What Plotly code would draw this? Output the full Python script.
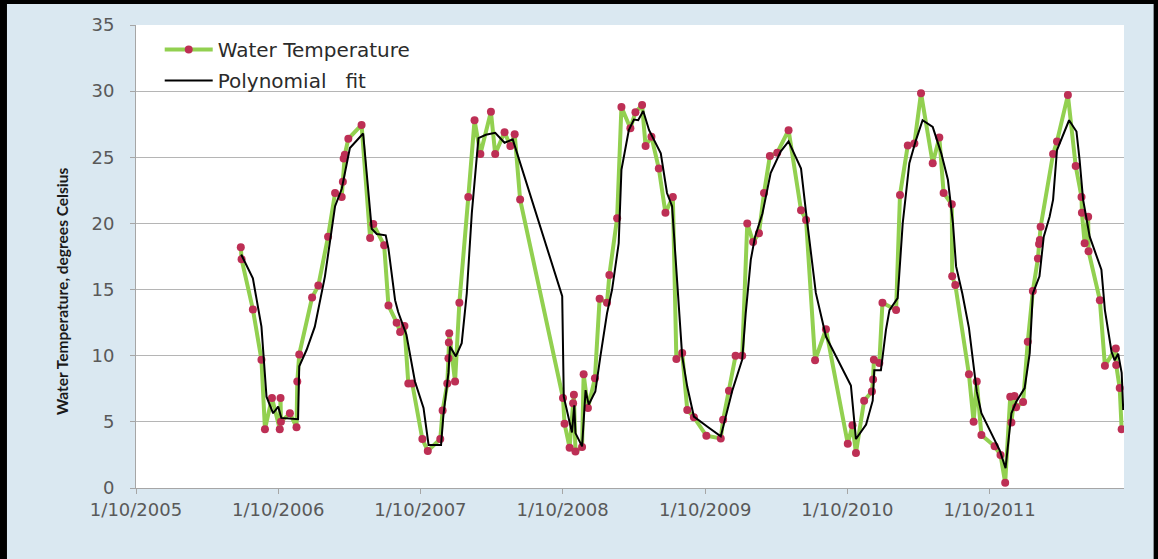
import plotly.graph_objects as go

# Sampled water temperature (deg C)
water_dates = [
    "2005-10-06", "2005-10-08", "2005-11-06", "2005-11-28", "2005-12-07", "2005-12-25",
    "2006-01-14", "2006-01-16", "2006-01-17", "2006-02-09", "2006-02-26", "2006-02-28", "2006-03-05",
    "2006-04-07", "2006-04-23", "2006-05-18", "2006-06-05", "2006-06-22", "2006-06-25", "2006-06-27", "2006-06-30", "2006-07-09", "2006-08-12",
    "2006-09-03", "2006-09-11", "2006-10-09", "2006-10-20", "2006-11-10", "2006-11-19", "2006-11-30", "2006-12-10", "2006-12-20",
    "2007-01-15", "2007-01-29", "2007-03-02", "2007-03-08", "2007-03-20", "2007-03-23", "2007-03-24", "2007-03-25", "2007-04-09", "2007-04-20",
    "2007-05-13", "2007-05-29", "2007-06-13", "2007-07-10", "2007-07-21", "2007-08-14", "2007-08-29", "2007-09-09", "2007-09-23",
    "2008-01-11", "2008-01-15", "2008-01-28", "2008-02-06", "2008-02-08", "2008-02-12", "2008-02-29", "2008-03-04", "2008-03-15", "2008-04-02",
    "2008-04-14", "2008-05-03", "2008-05-09", "2008-05-29", "2008-06-09", "2008-07-02", "2008-07-15", "2008-08-01", "2008-08-10", "2008-08-25",
    "2008-09-13", "2008-09-30", "2008-10-19", "2008-10-28", "2008-11-12", "2008-11-25", "2008-12-12",
    "2009-01-13", "2009-02-19", "2009-02-25", "2009-03-12", "2009-03-29", "2009-04-15", "2009-04-28", "2009-05-13", "2009-05-28", "2009-06-10",
    "2009-06-25", "2009-07-14", "2009-08-12", "2009-09-13", "2009-09-26", "2009-10-19", "2009-11-16",
    "2010-01-11", "2010-01-23", "2010-02-01", "2010-02-22", "2010-03-14", "2010-03-17", "2010-03-19", "2010-04-02", "2010-04-10", "2010-05-15",
    "2010-05-25", "2010-06-14", "2010-07-01", "2010-07-18", "2010-08-17", "2010-09-03", "2010-09-14", "2010-10-05", "2010-10-06", "2010-10-14",
    "2010-11-18", "2010-11-30", "2010-12-08", "2010-12-20",
    "2011-01-23", "2011-02-07", "2011-02-19", "2011-03-04", "2011-03-07", "2011-03-15", "2011-03-19", "2011-04-06", "2011-04-18", "2011-05-01",
    "2011-05-14", "2011-05-17", "2011-05-19", "2011-05-21", "2011-06-22", "2011-07-02", "2011-07-30", "2011-08-19", "2011-09-03", "2011-09-04",
    "2011-09-11", "2011-09-20", "2011-09-21", "2011-10-20", "2011-11-02", "2011-11-30", "2011-12-01", "2011-12-10", "2011-12-15",
]
water_temp = [
    18.2, 17.3, 13.5, 9.7, 4.45, 6.8,
    4.45, 6.8, 5.0, 5.65, 4.6, 8.05, 10.1,
    14.4, 15.3, 19.0, 22.3, 22.0, 23.15, 24.9, 25.2, 26.4, 27.45,
    18.9, 19.95, 18.35, 13.8, 12.5, 11.8, 12.25, 7.9, 7.9,
    3.7, 2.8, 3.7, 5.85, 7.9, 9.8, 11.0, 11.7, 8.05, 14.0,
    22.0, 27.8, 25.25, 28.45, 25.25, 26.9, 25.85, 26.75, 21.8,
    6.8, 4.85, 3.05, 6.4, 7.05, 2.75, 3.1, 8.6, 6.05, 8.3,
    14.3, 14.0, 16.1, 20.4, 28.8, 27.2, 28.4, 28.95, 25.85, 26.55,
    24.15, 20.8, 22.0, 9.75, 10.2, 5.9, 5.35,
    3.95, 3.75, 5.15, 7.35, 10.0, 10.0, 20.0, 18.6, 19.25, 22.3,
    25.1, 25.35, 27.05, 21.0, 20.25, 9.65, 12.0,
    3.35, 4.75, 2.65, 6.6, 7.3, 8.2, 9.7, 9.45, 14.0, 13.45,
    22.15, 25.9, 26.05, 29.85, 24.55, 26.5, 22.3, 21.45, 16.0, 15.35,
    8.6, 5.0, 8.05, 4.0,
    3.15, 2.5, 0.4, 6.9, 4.95, 6.95, 6.1, 6.5, 11.05, 14.9,
    17.35, 18.45, 18.75, 19.75, 25.25, 26.2, 29.7, 24.35, 22.0, 20.8,
    18.5, 20.5, 17.9, 14.2, 9.25, 10.55, 9.3, 7.55, 4.45,
]

# Polynomial fit curve (deg C)
fit_dates = [
    "2005-10-07", "2005-11-06", "2005-11-28", "2005-12-11", "2005-12-28",
    "2006-01-10", "2006-01-18", "2006-03-02", "2006-03-05", "2006-03-24", "2006-04-14", "2006-05-10", "2006-06-05", "2006-06-22",
    "2006-07-13", "2006-08-16", "2006-09-07", "2006-09-20", "2006-10-13", "2006-10-20", "2006-11-06", "2006-11-14", "2006-12-05", "2006-12-27",
    "2007-01-18", "2007-01-31", "2007-03-04", "2007-03-10", "2007-03-23", "2007-03-27", "2007-04-11", "2007-04-26", "2007-05-09", "2007-05-22",
    "2007-06-08", "2007-06-27", "2007-07-21", "2007-08-14", "2007-09-04", "2007-09-23",
    "2008-01-09", "2008-01-13", "2008-02-03", "2008-02-09", "2008-02-12", "2008-02-29", "2008-03-09", "2008-03-17", "2008-04-03", "2008-04-16",
    "2008-05-03", "2008-05-16", "2008-06-02", "2008-06-09", "2008-06-28", "2008-07-11", "2008-07-22", "2008-08-04", "2008-08-19", "2008-09-18",
    "2008-10-04", "2008-10-17", "2008-10-30", "2008-11-12", "2008-11-25", "2008-12-12",
    "2009-01-15", "2009-02-19", "2009-03-21", "2009-04-15", "2009-04-24", "2009-05-07", "2009-05-18", "2009-06-06", "2009-06-27", "2009-07-23",
    "2009-08-12", "2009-09-13", "2009-09-26", "2009-10-21", "2009-11-16", "2009-12-03",
    "2010-01-19", "2010-02-01", "2010-02-27", "2010-03-16", "2010-03-20", "2010-04-06", "2010-04-19", "2010-04-28", "2010-05-19", "2010-06-01",
    "2010-06-18", "2010-07-05", "2010-07-22", "2010-08-17", "2010-09-08", "2010-09-25", "2010-10-08", "2010-10-16", "2010-11-01", "2010-11-18",
    "2010-11-30", "2010-12-08", "2010-12-20",
    "2011-02-05", "2011-02-20", "2011-03-07", "2011-03-19", "2011-04-10", "2011-04-23", "2011-05-01", "2011-05-18", "2011-05-29", "2011-06-13",
    "2011-06-22", "2011-07-02", "2011-07-17", "2011-08-02", "2011-08-21", "2011-08-29", "2011-09-07", "2011-09-24", "2011-10-24", "2011-11-02",
    "2011-11-19", "2011-11-27", "2011-12-06", "2011-12-15", "2011-12-19",
]
fit_temp = [
    17.65, 15.85, 12.2, 6.9, 5.65,
    6.15, 5.3, 5.2, 9.2, 10.45, 12.2, 16.0, 21.3, 22.6,
    25.7, 26.8, 19.6, 19.2, 19.1, 18.1, 14.2, 13.3, 11.6, 8.05,
    6.05, 3.25, 3.25, 5.5, 8.7, 10.7, 9.95, 10.95, 14.7, 20.8,
    26.45, 26.7, 26.85, 26.1, 26.35, 24.55,
    14.5, 6.9, 4.2, 6.25, 4.15, 3.15, 7.4, 6.3, 7.3, 9.95,
    13.2, 15.0, 18.5, 24.05, 27.05, 27.85, 27.8, 28.5, 27.05, 25.3,
    22.3, 21.3, 15.7, 9.95, 7.65, 5.4,
    4.65, 3.9, 7.4, 9.7, 13.2, 17.25, 19.0, 20.75, 23.8, 25.45,
    26.2, 24.15, 20.8, 14.75, 11.45, 10.45,
    7.75, 3.7, 4.8, 6.6, 8.9, 8.9, 11.95, 13.45, 14.35, 20.0,
    24.55, 26.3, 27.8, 27.3, 25.3, 23.3, 20.0, 16.75, 14.7, 12.1,
    8.95, 7.3, 5.65,
    2.85, 1.5, 5.65, 6.5, 7.55, 10.2, 14.7, 16.0, 19.0, 20.5,
    21.8, 25.55, 26.7, 27.8, 26.95, 24.8, 21.8, 19.0, 16.5, 13.45,
    10.3, 9.65, 10.15, 8.7, 5.9,
]

tick_dates = ["2005-01-10", "2006-01-10", "2007-01-10", "2008-01-10",
              "2009-01-10", "2010-01-10", "2011-01-10"]
tick_labels = ["1/10/2005", "1/10/2006", "1/10/2007", "1/10/2008",
               "1/10/2009", "1/10/2010", "1/10/2011"]
x_range = ["2005-01-10", "2011-12-21"]

AXIS_GREY = "#a6a6a6"
TEXT_GREY = "#595959"

fig = go.Figure()
fig.add_trace(go.Scatter(
    x=water_dates, y=water_temp, mode="lines+markers",
    name="Water Temperature", legendgroup="a",
    line=dict(color="#92d050", width=4),
    marker=dict(color="#bd2f55", size=8),
))
fig.add_trace(go.Scatter(
    x=fit_dates, y=fit_temp, mode="lines",
    name="Polynomial\u00a0\u00a0 fit", legendgroup="b",
    line=dict(color="#000000", width=2),
))

# frame around the chart (left, top, right edges)
frame = [
    dict(x0=-0.1377, x1=-0.1306, y0=-0.16, y1=1.06),
    dict(x0=-0.1377, x1=1.0350, y0=1.0454, y1=1.06),
    dict(x0=1.0300, x1=1.0350, y0=-0.16, y1=1.06),
]
shapes = [dict(type="rect", xref="paper", yref="paper", line=dict(width=0),
               fillcolor="black", layer="above", **f) for f in frame]

fig.update_layout(
    width=1158, height=559,
    margin=dict(l=136, r=34, t=25, b=71, pad=0),
    paper_bgcolor="#dae8f1",
    plot_bgcolor="#ffffff",
    font=dict(family="DejaVu Sans", color=TEXT_GREY),
    showlegend=True,
    legend=dict(
        x=0.024, y=0.9893, xanchor="left", yanchor="top",
        bgcolor="rgba(0,0,0,0)", borderwidth=0,
        font=dict(family="DejaVu Sans", size=20, color="#2b2b2b"),
        itemwidth=48, traceorder="grouped", tracegroupgap=2,
    ),
    xaxis=dict(
        type="date", range=x_range,
        tickmode="array", tickvals=tick_dates, ticktext=tick_labels,
        showgrid=False, zeroline=False,
        showline=True, linecolor=AXIS_GREY, linewidth=1,
        ticks="outside", ticklen=5, tickcolor=AXIS_GREY,
        tickfont=dict(family="DejaVu Sans", size=18, color=TEXT_GREY),
    ),
    yaxis=dict(
        range=[0, 35], dtick=5, tick0=0,
        showgrid=True, gridcolor="#b5b5b5", gridwidth=1, zeroline=False,
        showline=True, linecolor=AXIS_GREY, linewidth=1,
        ticks="outside", ticklen=5, tickcolor=AXIS_GREY,
        tickfont=dict(family="DejaVu Sans", size=18, color=TEXT_GREY),
        ticklabelstandoff=12,
    ),
    annotations=[dict(
        text="<b>Water Temperature, degrees Celsius</b>",
        xref="paper", yref="paper", x=-0.0749, y=0.4255,
        xanchor="center", yanchor="middle", textangle=-90, showarrow=False,
        font=dict(family="Lato", size=15.5, color="#1a1a1a"),
    )],
    shapes=shapes,
)

fig.write_html("out.html", config={"displayModeBar": False})
